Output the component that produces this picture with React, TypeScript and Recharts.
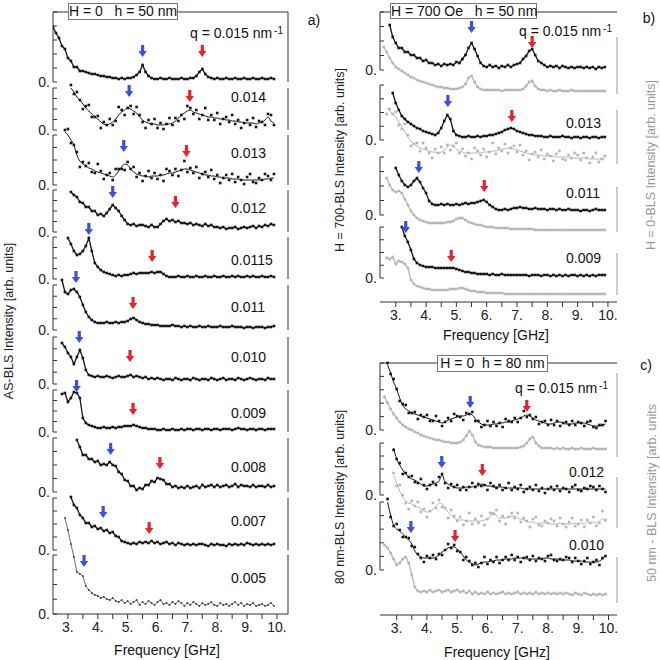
import React from 'react';
import { LineChart, Line, XAxis, YAxis, ReferenceLine, ReferenceDot } from 'recharts';

// frequency grid (GHz), every curve ends on the last value
const FREQ = [
  2.5, 2.6, 2.7, 2.8, 2.9, 3.0, 3.1, 3.2, 3.3, 3.4, 3.5, 3.6, 3.7, 3.8, 3.9,
  4.0, 4.1, 4.2, 4.3, 4.4, 4.5, 4.6, 4.7, 4.8, 4.9, 5.0, 5.1, 5.2, 5.3, 5.4,
  5.5, 5.6, 5.7, 5.8, 5.9, 6.0, 6.1, 6.2, 6.3, 6.4, 6.5, 6.6, 6.7, 6.8, 6.9,
  7.0, 7.1, 7.2, 7.3, 7.4, 7.5, 7.6, 7.7, 7.8, 7.9, 8.0, 8.1, 8.2, 8.3, 8.4,
  8.5, 8.6, 8.7, 8.8, 8.9, 9.0, 9.1, 9.2, 9.3, 9.4, 9.5, 9.6, 9.7, 9.8, 9.9,
];
const X_TICKS = [3, 3.5, 4, 4.5, 5, 5.5, 6, 6.5, 7, 7.5, 8, 8.5, 9, 9.5, 10];

// ---- panel a: H = 0, h = 50 nm (arb. units) ----
const A_015 = [55, 49, 44, 36, 33, 24, 21, 15, 15, 11, 11, 10, 9, 8, 8, 7, 6, 6, 5, 5, 4, 4, 3, 4, 3, 4, 4, 5, 7, 10, 17, 10, 6, 4, 3, 3, 4, 3, 3, 4, 3, 3, 3, 4, 3, 3, 4, 4, 6, 10, 13, 8, 5, 4, 3, 4, 3, 3, 4, 3, 3, 4, 3, 3, 4, 3, 3, 4, 3, 3, 4, 3, 3, 4, 3];
const A_014_FIT = [42, 38, 33, 30, 26, 22, 19, 16, 13, 11, 8, 6, 5, 6, 8, 11, 15, 18, 20, 22, 21, 19, 17, 13, 10, 8, 7, 6, 6, 5, 5, 5, 6, 6, 7, 9, 12, 15, 17, 19, 20, 18, 17, 16, 15, 14, 13, 13, 12, 12, 11, 11, 10, 10, 9, 9, 8, 8, 7, 7, 7, 7, 6, 7, 8, 10, 13, 9, 7];
const A_014_PTS = [45, 36, 38, 30, 21, 24, 25, 13, 13, 14, 2, 8, 5, 11, 5, 9, 23, 20, 15, 22, 24, 16, 23, 15, 8, 2, 10, 6, 11, 2, 7, 1, 6, 12, 5, 12, 9, 15, 11, 24, 22, 16, 20, 11, 15, 22, 10, 15, 10, 17, 6, 11, 13, 8, 15, 6, 10, 2, 7, 10, 5, 12, 3, 9, 8, 5, 16, 15, 5];
const A_013_FIT = [53, 50, 45, 40, 30, 24, 21, 19, 17, 16, 14, 13, 12, 11, 10, 9, 8, 10, 14, 18, 21, 20, 16, 13, 11, 10, 9, 9, 8, 9, 9, 9, 10, 10, 11, 12, 12, 13, 14, 15, 16, 16, 15, 14, 13, 12, 11, 10, 10, 9, 9, 8, 8, 7, 7, 7, 6, 6, 6, 5, 5, 5, 5, 5, 5, 5, 5, 6, 6, 7, 7];
const A_013_PTS = [55, 56, 42, 40, 33, 18, 23, 19, 22, 13, 12, 21, 14, 6, 10, 12, 5, 16, 16, 16, 15, 23, 16, 18, 8, 12, 4, 9, 14, 7, 12, 6, 10, 4, 16, 14, 10, 16, 9, 15, 24, 13, 17, 12, 18, 7, 11, 13, 8, 15, 6, 10, 2, 7, 10, 5, 11, 3, 8, 5, 1, 8, 11, 3, 2, 7, 5, 11, 9, 5, 11];
const A_012 = [40, 37, 35, 30, 29, 25, 25, 21, 21, 17, 18, 16, 19, 23, 27, 24, 21, 16, 12, 8, 7, 8, 6, 7, 7, 6, 5, 7, 5, 5, 8, 11, 13, 11, 12, 10, 11, 9, 9, 8, 9, 7, 8, 7, 6, 8, 6, 7, 5, 5, 4, 5, 3, 4, 4, 5, 3, 4, 5, 4, 5, 6, 4, 6, 5, 7, 6, 8, 7];
const A_0115 = [41, 35, 28, 24, 25, 28, 33, 41, 28, 16, 12, 9, 7, 6, 5, 4, 3, 4, 3, 4, 4, 5, 6, 5, 6, 6, 6, 6, 7, 6, 7, 7, 5, 3, 2, 2, 2, 3, 2, 2, 3, 2, 2, 3, 2, 2, 3, 2, 2, 3, 2, 2, 3, 2, 2, 3, 2, 3, 2, 2, 3, 2, 3, 2, 2, 3, 2, 2, 3, 2];
const A_011 = [50, 38, 36, 40, 41, 38, 33, 25, 18, 13, 10, 8, 7, 7, 7, 8, 7, 7, 8, 7, 8, 8, 9, 11, 12, 10, 8, 7, 6, 6, 5, 5, 5, 4, 4, 4, 4, 5, 4, 4, 3, 4, 3, 4, 3, 3, 4, 3, 3, 4, 3, 3, 3, 4, 3, 3, 3, 4, 3, 3, 3, 2, 3, 3, 2, 3, 3, 3, 2, 3, 3, 4];
const A_010 = [41, 37, 31, 27, 20, 27, 34, 26, 14, 9, 8, 7, 8, 7, 7, 8, 7, 6, 7, 8, 7, 7, 8, 9, 7, 8, 7, 6, 7, 5, 6, 5, 6, 5, 4, 5, 5, 4, 6, 5, 4, 5, 5, 4, 6, 5, 4, 5, 5, 4, 6, 5, 4, 5, 6, 4, 5, 5, 4, 6, 5, 4, 5, 6, 5, 4, 5, 5, 4, 6, 5, 5];
const A_009 = [38, 39, 30, 34, 40, 39, 34, 14, 9, 7, 6, 5, 4, 4, 5, 4, 4, 5, 4, 5, 5, 6, 6, 6, 7, 6, 5, 4, 4, 3, 3, 3, 2, 2, 3, 2, 2, 3, 2, 2, 3, 2, 3, 3, 2, 3, 3, 2, 3, 3, 2, 3, 3, 2, 3, 3, 3, 2, 3, 4, 3, 3, 2, 3, 3, 2, 3, 3, 2, 3, 3, 3];
const A_008 = [52, 45, 37, 37, 33, 33, 30, 31, 27, 28, 27, 30, 27, 26, 20, 18, 12, 11, 6, 6, 2, 4, 3, 7, 7, 11, 10, 14, 13, 12, 8, 8, 5, 6, 4, 5, 4, 6, 4, 5, 6, 4, 7, 5, 6, 7, 5, 7, 5, 6, 7, 5, 6, 8, 5, 7, 6, 6, 5, 7, 5, 6, 6, 5, 7, 5, 6];
const A_007 = [53, 45, 42, 35, 32, 27, 27, 23, 24, 21, 22, 19, 20, 17, 18, 14, 13, 9, 8, 7, 6, 7, 6, 8, 7, 8, 7, 9, 7, 8, 6, 7, 8, 6, 7, 5, 7, 6, 5, 6, 5, 6, 5, 6, 6, 5, 4, 6, 5, 6, 5, 5, 4, 6, 5, 6, 5, 6, 5, 7, 6, 5, 6, 5, 6, 5, 6, 5, 6];
const A_005 = [96, 84, 70, 57, 42, 40, 38, 28, 24, 21, 19, 18, 16, 17, 15, 14, 16, 13, 12, 14, 11, 13, 10, 12, 14, 9, 12, 10, 13, 11, 9, 12, 14, 10, 11, 9, 12, 10, 13, 11, 8, 11, 9, 12, 10, 8, 11, 9, 10, 12, 9, 8, 11, 9, 10, 8, 10, 12, 9, 11, 8, 10, 9, 11, 8, 9, 10, 8, 9, 11, 8];

// ---- panel b: H = 700 Oe (black) vs H = 0 (gray) ----
const B_015 = [45, 33, 27, 22, 22, 18, 18, 15, 15, 12, 12, 9, 10, 7, 7, 5, 6, 4, 6, 5, 6, 5, 8, 7, 11, 15, 22, 27, 21, 14, 7, 4, 3, 5, 3, 4, 2, 4, 3, 5, 3, 5, 6, 7, 11, 14, 19, 21, 15, 9, 7, 5, 3, 4, 3, 4, 2, 4, 3, 2, 3, 2, 3, 3, 2, 3, 2, 3, 1, 3, 2, 3];
const B_015_H0 = [47, 42, 36, 31, 27, 25, 23, 21, 19, 17, 16, 14, 13, 12, 11, 10, 9, 8, 7, 7, 6, 6, 5, 5, 5, 6, 7, 10, 16, 18, 12, 7, 5, 4, 4, 4, 4, 4, 4, 3, 4, 4, 4, 4, 4, 4, 5, 8, 12, 13, 8, 5, 4, 4, 3, 4, 3, 3, 4, 3, 3, 3, 4, 3, 3, 3, 3, 3, 3, 3, 3, 3, 3, 3];
const B_013 = [47, 37, 30, 24, 21, 18, 16, 14, 12, 11, 9, 8, 7, 6, 5, 7, 12, 19, 25, 21, 9, 5, 4, 3, 3, 4, 3, 3, 4, 3, 4, 4, 5, 5, 6, 7, 8, 10, 11, 12, 11, 9, 8, 7, 6, 5, 5, 4, 4, 4, 3, 3, 4, 3, 3, 3, 4, 3, 3, 2, 3, 3, 2, 3, 3, 2, 3, 3, 2, 3, 3];
const B_013_H0_FIT = [56, 53, 50, 47, 42, 37, 32, 27, 23, 20, 18, 16, 15, 14, 13, 12, 12, 11, 12, 14, 17, 19, 18, 15, 13, 12, 11, 11, 11, 11, 11, 11, 12, 12, 12, 13, 13, 14, 15, 15, 16, 16, 15, 14, 13, 12, 11, 10, 10, 9, 9, 9, 8, 8, 8, 8, 7, 7, 7, 7, 7, 6, 6, 6, 6, 6, 6, 5, 5, 5, 5, 5, 5];
const B_013_H0_PTS = [50, 55, 50, 52, 39, 35, 40, 29, 18, 20, 21, 13, 21, 16, 11, 6, 15, 11, 17, 11, 19, 14, 18, 21, 11, 15, 8, 11, 5, 16, 13, 9, 15, 7, 12, 21, 10, 16, 13, 20, 11, 16, 18, 12, 19, 9, 13, 4, 10, 12, 7, 14, 5, 10, 8, 3, 10, 13, 5, 4, 9, 6, 11, 9, 4, 11, 6, 1, 7, 11, 2, 5, 8];
const B_011 = [47, 40, 34, 30, 28, 30, 34, 37, 33, 27, 22, 14, 11, 10, 10, 11, 10, 11, 10, 10, 11, 10, 11, 12, 11, 12, 12, 13, 14, 15, 13, 10, 8, 6, 5, 5, 6, 5, 6, 7, 7, 8, 7, 7, 6, 6, 7, 6, 6, 6, 5, 6, 6, 5, 6, 5, 5, 6, 5, 5, 5, 4, 5, 5, 4, 5, 6, 5, 5, 5];
const B_011_H0 = [54, 47, 42, 40, 41, 39, 33, 27, 21, 17, 14, 12, 11, 10, 9, 9, 9, 9, 9, 9, 10, 10, 11, 13, 14, 14, 12, 10, 9, 8, 7, 7, 6, 5, 5, 5, 4, 4, 4, 4, 4, 3, 3, 3, 3, 3, 3, 3, 3, 2, 2, 2, 2, 2, 2, 2, 2, 2, 2, 2, 2, 2, 2, 2, 2, 2, 2, 2, 2, 2, 2, 2, 2];
const B_009 = [51, 42, 36, 28, 19, 15, 13, 12, 11, 11, 11, 10, 10, 10, 10, 10, 10, 10, 9, 8, 7, 6, 6, 5, 5, 4, 4, 4, 4, 3, 4, 3, 3, 4, 3, 3, 3, 3, 3, 3, 3, 3, 2, 3, 3, 3, 2, 3, 3, 2, 3, 2, 3, 2, 3, 2, 3, 3, 2, 3, 2, 3, 2, 3, 2, 3, 3, 3];
const B_009_H0 = [37, 36, 38, 31, 34, 33, 31, 27, 15, 11, 9, 8, 7, 6, 6, 5, 5, 5, 5, 5, 5, 6, 6, 6, 7, 7, 6, 5, 4, 4, 3, 3, 3, 2, 2, 2, 2, 2, 2, 1, 1, 1, 1, 1, 1, 1, 1, 1, 1, 1, 1, 1, 1, 1, 1, 1, 1, 1, 1, 1, 1, 1, 1, 1, 1, 1, 1, 1, 1, 1, 1, 1, 1];

// ---- panel c: h = 80 nm (black) vs h = 50 nm (gray) ----
const C_015_FIT = [65, 57, 48, 41, 32, 25, 21, 19, 17, 16, 15, 14, 13, 12, 11, 10, 9, 8, 7, 8, 10, 11, 12, 13, 14, 14, 15, 16, 15, 11, 8, 6, 5, 5, 5, 6, 6, 7, 7, 8, 8, 9, 10, 11, 12, 14, 15, 14, 12, 10, 9, 8, 7, 6, 6, 7, 8, 8, 7, 6, 6, 6, 7, 7, 7, 7, 6, 5, 4, 4, 4, 5, 6];
const C_015_PTS = [67, 56, 51, 41, 29, 26, 25, 17, 17, 18, 11, 15, 13, 15, 9, 9, 14, 9, 4, 8, 12, 9, 16, 14, 13, 10, 17, 16, 18, 9, 9, 3, 5, 9, 4, 8, 4, 7, 3, 11, 9, 8, 12, 8, 12, 19, 13, 15, 11, 13, 6, 8, 9, 5, 10, 5, 9, 4, 7, 8, 5, 9, 5, 8, 7, 4, 8, 9, 3, 2, 5, 5, 9];
const C_015_H50 = [60, 54, 48, 43, 39, 35, 32, 30, 28, 27, 25, 24, 22, 21, 20, 19, 18, 17, 17, 16, 15, 15, 14, 14, 14, 15, 17, 21, 26, 22, 15, 12, 11, 10, 10, 10, 9, 9, 9, 9, 9, 9, 9, 9, 9, 10, 11, 14, 18, 20, 14, 11, 9, 9, 9, 9, 8, 9, 8, 9, 8, 8, 9, 8, 8, 9, 8, 8, 8, 9, 8, 8, 8, 8];
const C_012_FIT = [47, 36, 30, 25, 21, 18, 16, 15, 13, 11, 9, 9, 10, 11, 12, 14, 20, 13, 11, 9, 8, 7, 7, 7, 8, 8, 8, 9, 9, 11, 10, 9, 9, 8, 8, 8, 8, 7, 7, 7, 7, 7, 7, 6, 6, 6, 6, 6, 6, 6, 6, 6, 6, 6, 6, 6, 6, 6, 6, 6, 6, 6, 6, 6, 6, 6, 6, 6, 6, 6, 6];
const C_012_PTS = [45, 36, 32, 21, 22, 18, 19, 13, 12, 16, 10, 6, 10, 13, 10, 18, 21, 12, 7, 11, 8, 10, 5, 8, 5, 8, 12, 8, 11, 9, 10, 5, 12, 9, 7, 10, 5, 7, 12, 5, 8, 6, 10, 3, 6, 8, 5, 10, 4, 7, 2, 6, 8, 5, 9, 4, 7, 6, 3, 8, 10, 5, 4, 7, 6, 9, 8, 5, 9, 6, 3];
const C_012_H50_FIT = [52, 45, 37, 31, 27, 25, 24, 22, 21, 19, 17, 16, 17, 19, 22, 25, 24, 20, 16, 13, 10, 9, 8, 8, 7, 7, 7, 7, 7, 7, 8, 9, 12, 16, 12, 10, 10, 10, 11, 12, 12, 10, 9, 8, 7, 6, 6, 5, 5, 5, 5, 5, 4, 4, 4, 5, 4, 4, 4, 4, 5, 4, 5, 4, 6, 5, 6, 5, 7, 9, 6];
const C_012_H50_PTS = [55, 42, 43, 33, 25, 19, 27, 22, 26, 16, 19, 11, 17, 25, 20, 28, 21, 20, 10, 18, 12, 7, 11, 3, 7, 15, 4, 9, 5, 12, 3, 9, 15, 14, 18, 7, 12, 4, 11, 15, 10, 15, 6, 10, 7, 1, 9, 11, 3, 2, 7, 5, 9, 7, 2, 10, 4, 1, 6, 10, 2, 4, 8, 1, 8, 5, 11, 2, 5, 17, 8];
const C_010_FIT = [68, 55, 45, 41, 39, 36, 33, 30, 26, 19, 15, 13, 12, 12, 12, 12, 13, 15, 18, 20, 22, 23, 23, 21, 18, 14, 10, 8, 6, 5, 6, 7, 8, 8, 9, 9, 10, 10, 10, 11, 11, 11, 12, 12, 12, 12, 11, 11, 11, 11, 11, 11, 12, 12, 11, 11, 11, 10, 10, 10, 10, 9, 9, 9, 9, 8, 8, 8, 8, 8, 9, 11, 14];
const C_010_PTS = [71, 53, 44, 46, 40, 33, 33, 32, 24, 23, 16, 12, 8, 14, 12, 15, 11, 16, 15, 20, 26, 22, 25, 19, 18, 10, 13, 9, 5, 7, 3, 7, 13, 6, 10, 8, 13, 7, 10, 13, 10, 15, 10, 13, 8, 12, 13, 10, 14, 9, 12, 11, 9, 14, 15, 10, 9, 11, 10, 13, 12, 8, 12, 9, 6, 9, 12, 6, 8, 10, 5, 12, 14];
const C_010_H50 = [58, 55, 50, 44, 38, 40, 44, 46, 40, 28, 16, 12, 11, 12, 11, 13, 11, 12, 13, 11, 12, 13, 11, 12, 13, 11, 12, 10, 12, 9, 11, 9, 10, 9, 11, 9, 10, 9, 10, 11, 9, 10, 9, 10, 11, 9, 10, 9, 10, 9, 11, 9, 10, 9, 10, 9, 10, 9, 10, 9, 10, 9, 8, 10, 9, 8, 10, 9, 8, 9, 8, 9, 8, 9];

// arrows: [frequency, intensity at tip]
const BLUE_ARROWS_A = [[5.5, 25], [5.05, 33], [4.87, 33], [4.5, 34], [3.7, 44], [3.27, 47], [3.38, 41], [3.29, 40], [4.43, 37], [4.18, 32], [3.54, 47]];
const RED_ARROWS_A = [[7.5, 25], [7.08, 28], [6.97, 28], [6.6, 24], [5.82, 17], [5.18, 21], [5.08, 22], [5.18, 17], [6.08, 23], [5.72, 16], null];
const BLUE_ARROWS_B = [[5.5, 37], [4.72, 33], [3.76, 42], [3.33, 45]];
const RED_ARROWS_B = [[7.5, 22], [6.83, 18], [5.92, 23], [4.83, 16]];
const BLUE_ARROWS_C = [[5.43, 22], [4.49, 27], [3.47, 37]];
const RED_ARROWS_C = [[7.3, 18], [5.83, 19], [4.93, 28]];

const Q_A = ['0.014', '0.013', '0.012', '0.0115', '0.011', '0.010', '0.009', '0.008', '0.007', '0.005'];
const Q_B = ['0.013', '0.011', '0.009'];
const Q_C = ['0.012', '0.010'];

const BLACK = '#151515';
const GRAY = '#b5b5b5';
const BLUE = '#3d4fe0';
const RED = '#ea2128';
const FONT = '"Liberation Sans", Arial, sans-serif';
const LW = 30;
const RW = 30;

type Curve = { values: number[]; dots?: number[]; color: string; kind: 'line' | 'scatter' | 'thin' };
type Panel = { x0: number; x1: number; domain: [number, number]; top: number; bottom: number };
type Strip = {
  panel: Panel;
  zero: number;
  top: number;
  side: 'left' | 'right' | 'both';
  axisColor: string;
  zeroLabel: boolean;
  curve?: Curve;
  arrows: { f: number; v: number; color: string }[];
};

const PANEL_A: Panel = { x0: 53, x1: 288, domain: [2.5, 10.37], top: 12, bottom: 614 };
const PANEL_B: Panel = { x0: 380, x1: 617, domain: [2.48, 10.3], top: 12, bottom: 302 };
const PANEL_C: Panel = { x0: 380, x1: 617, domain: [2.45, 10.28], top: 363, bottom: 615 };

const arrowsOf = (blue: any, red: any) => {
  const out: { f: number; v: number; color: string }[] = [];
  if (blue) out.push({ f: blue[0], v: blue[1], color: BLUE });
  if (red) out.push({ f: red[0], v: red[1], color: RED });
  return out;
};

const line = (values: number[], color = BLACK): Curve => ({ values, color, kind: 'line' });
const scatter = (values: number[], dots: number[], color = BLACK): Curve => ({ values, dots, color, kind: 'scatter' });

// strip layout: [zero line y, axis top y]
const A_LAYOUT = [[82, 12], [130, 88], [185, 135], [232, 190], [279, 237], [330, 285], [384, 337], [432, 390], [492, 438], [550, 498], [614, 555]];
const A_CURVES: Curve[] = [
  line(A_015), scatter(A_014_FIT, A_014_PTS), scatter(A_013_FIT, A_013_PTS), line(A_012), line(A_0115),
  line(A_011), line(A_010), line(A_009), line(A_008), line(A_007), { values: A_005, color: '#4a4a4a', kind: 'thin' },
];

const STRIPS: Strip[] = [
  ...A_LAYOUT.map(([zero, top], i) => ({
    panel: PANEL_A, zero, top, side: 'both' as const, axisColor: '#333', zeroLabel: true,
    curve: A_CURVES[i], arrows: arrowsOf(BLUE_ARROWS_A[i], RED_ARROWS_A[i]),
  })),
  // panel b: gray (H = 0) first so black stays on top
  { panel: PANEL_B, zero: 94, top: 37, side: 'right', axisColor: '#999', zeroLabel: true, curve: line(B_015_H0, GRAY), arrows: [] },
  { panel: PANEL_B, zero: 164, top: 110, side: 'right', axisColor: '#999', zeroLabel: true, curve: scatter(B_013_H0_FIT, B_013_H0_PTS, GRAY), arrows: [] },
  { panel: PANEL_B, zero: 232, top: 187, side: 'right', axisColor: '#999', zeroLabel: true, curve: line(B_011_H0, GRAY), arrows: [] },
  { panel: PANEL_B, zero: 295, top: 253, side: 'right', axisColor: '#999', zeroLabel: true, curve: line(B_009_H0, GRAY), arrows: [] },
  { panel: PANEL_B, zero: 70, top: 12, side: 'left', axisColor: '#333', zeroLabel: true, curve: line(B_015), arrows: arrowsOf(BLUE_ARROWS_B[0], RED_ARROWS_B[0]) },
  { panel: PANEL_B, zero: 140, top: 85, side: 'left', axisColor: '#333', zeroLabel: true, curve: line(B_013), arrows: arrowsOf(BLUE_ARROWS_B[1], RED_ARROWS_B[1]) },
  { panel: PANEL_B, zero: 215, top: 157, side: 'left', axisColor: '#333', zeroLabel: true, curve: line(B_011), arrows: arrowsOf(BLUE_ARROWS_B[2], RED_ARROWS_B[2]) },
  { panel: PANEL_B, zero: 278, top: 227, side: 'left', axisColor: '#333', zeroLabel: true, curve: line(B_009), arrows: arrowsOf(BLUE_ARROWS_B[3], RED_ARROWS_B[3]) },
  { panel: PANEL_B, zero: 302, top: 283, side: 'left', axisColor: '#333', zeroLabel: false, arrows: [] },
  // panel c
  { panel: PANEL_C, zero: 457, top: 373, side: 'right', axisColor: '#999', zeroLabel: true, curve: line(C_015_H50, GRAY), arrows: [] },
  { panel: PANEL_C, zero: 528, top: 477, side: 'right', axisColor: '#999', zeroLabel: true, curve: scatter(C_012_H50_FIT, C_012_H50_PTS, GRAY), arrows: [] },
  { panel: PANEL_C, zero: 603, top: 557, side: 'right', axisColor: '#999', zeroLabel: true, curve: line(C_010_H50, GRAY), arrows: [] },
  { panel: PANEL_C, zero: 430, top: 363, side: 'left', axisColor: '#333', zeroLabel: true, curve: scatter(C_015_FIT, C_015_PTS), arrows: arrowsOf(BLUE_ARROWS_C[0], RED_ARROWS_C[0]) },
  { panel: PANEL_C, zero: 495, top: 443, side: 'left', axisColor: '#333', zeroLabel: true, curve: scatter(C_012_FIT, C_012_PTS), arrows: arrowsOf(BLUE_ARROWS_C[1], RED_ARROWS_C[1]) },
  { panel: PANEL_C, zero: 570, top: 502, side: 'left', axisColor: '#333', zeroLabel: true, curve: scatter(C_010_FIT, C_010_PTS), arrows: arrowsOf(BLUE_ARROWS_C[2], RED_ARROWS_C[2]) },
  { panel: PANEL_C, zero: 615, top: 583, side: 'left', axisColor: '#333', zeroLabel: false, arrows: [] },
];

const square = (size: number, color: string) => (p: any) => {
  if (p.cx == null || p.cy == null || p.value == null) return <g key={`e${p.index}`} />;
  return <rect key={`s${p.index}`} x={p.cx - size / 2} y={p.cy - size / 2} width={size} height={size} fill={color} />;
};

const arrowShape = (color: string) => (p: any) => {
  const { cx, cy } = p;
  return (
    <path
      d={`M${cx - 1.6},${cy - 12} h3.2 v6 h2.6 L${cx},${cy} L${cx - 4.2},${cy - 6} h2.6 Z`}
      fill={color}
    />
  );
};

function StripChart({ s }: { s: Strip }) {
  const n = FREQ.length;
  const c = s.curve;
  const h = s.zero - s.top;
  const all = c ? [...c.values, ...(c.dots ?? [])] : [];
  const dMax = Math.max(h, ...all, ...s.arrows.map((a) => a.v));
  const rows = FREQ.map((f, i) => {
    const row: Record<string, number | null> = { f };
    if (c) {
      const k = i - (n - c.values.length);
      row.v = k >= 0 ? c.values[k] : null;
      if (c.dots) {
        const k2 = i - (n - c.dots.length);
        row.d = k2 >= 0 ? c.dots[k2] : null;
      }
    }
    return row;
  });
  const steps = h > 60 ? 5 : h > 30 ? 4 : 2;
  const ticks = Array.from({ length: steps + 1 }, (_, i) => (h * i) / steps);
  const { x0, x1, domain } = s.panel;
  const showL = s.side !== 'right';
  const showR = s.side !== 'left';
  const tickFont = { fontSize: 14, fill: s.axisColor === '#999' ? '#8f8f8f' : '#222' };
  const fmt = (v: number) => (v === 0 && s.zeroLabel ? '0.' : '');

  return (
    <div style={{ position: 'absolute', left: x0 - LW, top: s.zero - dMax }}>
      <LineChart width={x1 - x0 + LW + RW} height={dMax} data={rows} margin={{ top: 0, right: 0, bottom: 0, left: 0 }}>
        <XAxis dataKey="f" type="number" domain={domain} hide allowDataOverflow />
        <YAxis
          yAxisId="l"
          type="number"
          domain={[0, dMax]}
          width={LW}
          ticks={ticks}
          tickFormatter={fmt}
          axisLine={false}
          tickLine={showL ? { stroke: s.axisColor } : false}
          tick={showL ? tickFont : false}
          tickSize={-4}
          tickMargin={7}
          interval={0}
        />
        <YAxis
          yAxisId="r"
          orientation="right"
          type="number"
          domain={[0, dMax]}
          width={RW}
          ticks={ticks}
          tickFormatter={s.side === 'right' ? fmt : () => ''}
          axisLine={false}
          tickLine={showR ? { stroke: s.axisColor } : false}
          tick={showR ? tickFont : false}
          tickSize={-4}
          tickMargin={10}
          interval={0}
        />
        {showL && (
          <ReferenceLine yAxisId="l" segment={[{ x: domain[0], y: 0 }, { x: domain[0], y: h }]} stroke={s.axisColor} ifOverflow="visible" />
        )}
        {showR && (
          <ReferenceLine yAxisId="l" segment={[{ x: domain[1], y: 0 }, { x: domain[1], y: h }]} stroke={s.axisColor} ifOverflow="visible" />
        )}
        {c && c.kind === 'scatter' && (
          <Line yAxisId="l" dataKey="v" type="monotone" stroke={c.color} strokeWidth={1} dot={false} isAnimationActive={false} />
        )}
        {c && c.kind === 'scatter' && (
          <Line yAxisId="l" dataKey="d" stroke="none" dot={square(2.6, c.color)} activeDot={false} isAnimationActive={false} />
        )}
        {c && c.kind === 'line' && (
          <Line yAxisId="l" dataKey="v" type="linear" stroke={c.color} strokeWidth={1.3} dot={square(2.6, c.color)} activeDot={false} isAnimationActive={false} />
        )}
        {c && c.kind === 'thin' && (
          <Line yAxisId="l" dataKey="v" type="linear" stroke={c.color} strokeWidth={0.8} dot={square(1.6, '#333')} activeDot={false} isAnimationActive={false} />
        )}
        {s.arrows.map((a, i) => (
          <ReferenceDot key={i} yAxisId="l" x={a.f} y={a.v} ifOverflow="visible" shape={arrowShape(a.color)} />
        ))}
      </LineChart>
    </div>
  );
}

function FrameChart({ p }: { p: Panel }) {
  const TH = 10;
  const BH = 40;
  const fmt = (v: number) => (Number.isInteger(v) ? `${v}.` : '');
  return (
    <div style={{ position: 'absolute', left: p.x0 - LW, top: p.top - TH }}>
      <LineChart
        width={p.x1 - p.x0 + LW + RW}
        height={p.bottom - p.top + TH + BH}
        data={FREQ.map((f) => ({ f }))}
        margin={{ top: 0, right: 0, bottom: 0, left: 0 }}
      >
        <XAxis
          xAxisId="b"
          dataKey="f"
          type="number"
          domain={p.domain}
          allowDataOverflow
          ticks={X_TICKS}
          interval={0}
          tickFormatter={fmt}
          height={BH}
          tickSize={5}
          tickMargin={3}
          stroke="#333"
          tick={{ fontSize: 14, fill: '#222' }}
        />
        <XAxis
          xAxisId="t"
          orientation="top"
          dataKey="f"
          type="number"
          domain={p.domain}
          allowDataOverflow
          ticks={X_TICKS}
          interval={0}
          tick={false}
          tickSize={-4}
          height={TH}
          stroke="#333"
        />
        <YAxis width={LW} tick={false} tickLine={false} axisLine={false} />
        <YAxis yAxisId="r" orientation="right" width={RW} tick={false} tickLine={false} axisLine={false} />
      </LineChart>
    </div>
  );
}

function Txt({ x, y, children, align = 'left', size = 14, color = '#111' }: any) {
  const tx = align === 'left' ? '0' : align === 'right' ? '-100%' : '-50%';
  return (
    <div
      style={{
        position: 'absolute', left: x, top: y, transform: `translate(${tx}, -50%)`,
        fontSize: size, color, whiteSpace: 'pre', lineHeight: 1,
      }}
    >
      {children}
    </div>
  );
}

function VTxt({ x, y, children, color = '#222', size = 12.5 }: any) {
  return (
    <div
      style={{
        position: 'absolute', left: x, top: y, transform: 'translate(-50%, -50%) rotate(-90deg)',
        fontSize: size, color, whiteSpace: 'pre', lineHeight: 1,
      }}
    >
      {children}
    </div>
  );
}

function Box({ x, y, w, h, children }: any) {
  return (
    <div
      style={{
        position: 'absolute', left: x, top: y, width: w, height: h, boxSizing: 'border-box',
        border: '1px solid #777', background: '#fff', fontSize: 14, lineHeight: `${h - 2}px`,
        textAlign: 'center', whiteSpace: 'pre', color: '#111',
      }}
    >
      {children}
    </div>
  );
}

const Q = () => (
  <>
    q = 0.015 nm<span style={{ fontSize: 10, position: 'relative', top: -4, marginLeft: 2 }}>-1</span>
  </>
);

const Q_A_Y = [97, 153, 208, 260, 307, 357, 413, 467, 521, 578];
const Q_B_Y = [123, 193, 258];
const Q_C_Y = [472, 545];

export default function App() {
  return (
    <div style={{ position: 'absolute', left: 0, top: 0, width: 660, height: 660, background: '#fff', fontFamily: FONT, overflow: 'hidden' }}>
      <style>{`.recharts-surface{overflow:visible}`}</style>
      <FrameChart p={PANEL_A} />
      <FrameChart p={PANEL_B} />
      <FrameChart p={PANEL_C} />
      {STRIPS.map((s, i) => (
        <StripChart key={i} s={s} />
      ))}

      <Box x={68} y={3} w={110} h={17}>{'H = 0   h = 50 nm'}</Box>
      <Box x={390} y={3} w={147} h={16}>{'H = 700 Oe   h = 50 nm'}</Box>
      <Box x={437} y={355} w={111} h={17}>{'H = 0  h = 80 nm'}</Box>

      <Txt x={314} y={20} align="center">a)</Txt>
      <Txt x={649} y={18} align="center">b)</Txt>
      <Txt x={646} y={365} align="center">c)</Txt>

      <Txt x={283} y={33} align="right"><Q /></Txt>
      {Q_A.map((q, i) => (
        <Txt key={q} x={231} y={Q_A_Y[i]}>{q}</Txt>
      ))}
      <Txt x={612} y={31} align="right"><Q /></Txt>
      {Q_B.map((q, i) => (
        <Txt key={q} x={566} y={Q_B_Y[i]}>{q}</Txt>
      ))}
      <Txt x={608} y={388} align="right"><Q /></Txt>
      {Q_C.map((q, i) => (
        <Txt key={q} x={569} y={Q_C_Y[i]}>{q}</Txt>
      ))}

      <Txt x={167} y={650} align="center">Frequency [GHz]</Txt>
      <Txt x={496} y={335} align="center">Frequency [GHz]</Txt>
      <Txt x={497} y={652} align="center">Frequency [GHz]</Txt>

      <VTxt x={9} y={321}>AS-BLS Intensity [arb. units]</VTxt>
      <VTxt x={340} y={160}>H = 700-BLS Intensity [arb. units]</VTxt>
      <VTxt x={651} y={165} color="#999">H = 0-BLS Intensity [arb. units]</VTxt>
      <VTxt x={340} y={497}>80 nm-BLS Intensity [arb. units]</VTxt>
      <VTxt x={652} y={493} color="#999">50 nm - BLS Intensity [arb. units</VTxt>
    </div>
  );
}
